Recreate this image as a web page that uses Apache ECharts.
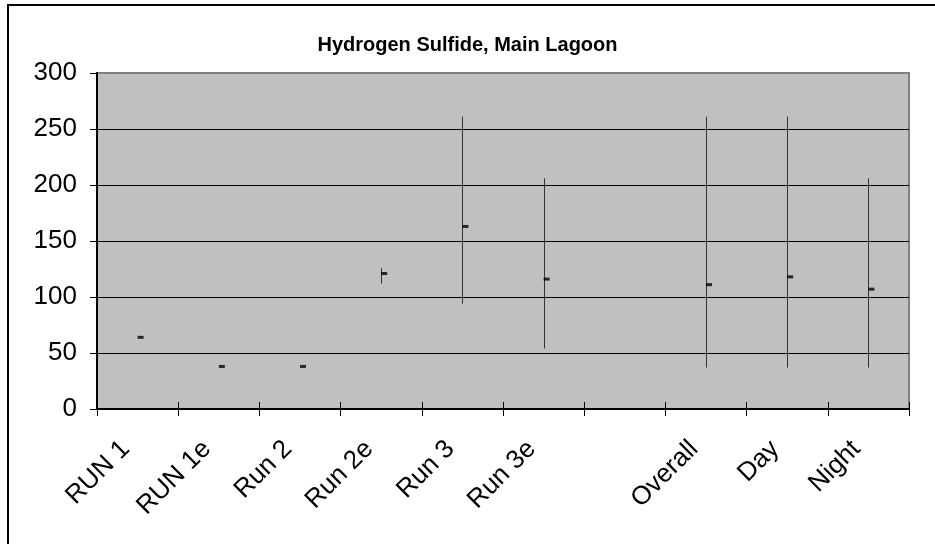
<!DOCTYPE html>
<html>
<head>
<meta charset="utf-8">
<script src="https://cdn.jsdelivr.net/npm/echarts@6/dist/echarts.min.js"></script>
<style>
  html, body { margin: 0; padding: 0; background: #fff; }
  #chart { width: 935px; height: 544px; }
</style>
</head>
<body>
<div id="chart"></div>
<script>
// data
var categories = ['RUN 1', 'RUN 1e', 'Run 2', 'Run 2e', 'Run 3', 'Run 3e', '', 'Overall', 'Day', 'Night'];
var means = [64, 38, 38, 121, 163, 116, null, 111, 118, 107];
var lows = [null, null, null, 112, 94, 54, null, 37, 37, 37];
var highs = [null, null, null, 126, 261, 206, null, 261, 261, 206];
var yTicks = [0, 50, 100, 150, 200, 250, 300];

var chart = echarts.init(document.getElementById('chart'));

var errData = [];
for (var i = 0; i < categories.length; i++) {
  if (lows[i] != null) errData.push([i, lows[i], highs[i]]);
}
var meanData = [];
for (var j = 0; j < categories.length; j++) {
  if (means[j] != null) meanData.push([j, means[j]]);
}

var option = {
  animation: false,
  backgroundColor: '#fff',
  title: {
    text: 'Hydrogen Sulfide, Main Lagoon',
    left: 'center',
    top: 30,
    textStyle: { fontFamily: 'Liberation Sans', fontWeight: 'bold', fontSize: 20, color: '#000' }
  },
  graphic: [
    { type: 'line', shape: { x1: 8, y1: 4, x2: 8, y2: 544 }, style: { stroke: '#000', lineWidth: 2 } },
    { type: 'line', shape: { x1: 7, y1: 5, x2: 935, y2: 5 }, style: { stroke: '#000', lineWidth: 2 } }
  ],
  grid: {
    left: 97, right: 26, top: 73, bottom: 135,
    show: true,
    backgroundColor: '#c0c0c0',
    borderColor: '#808080',
    borderWidth: 2
  },
  xAxis: [{
    type: 'category',
    data: categories,
    boundaryGap: true,
    axisLine: { lineStyle: { color: '#000', width: 2 } },
    axisTick: { show: true, length: 7, lineStyle: { color: '#000' } },
    axisLabel: {
      interval: 0,
      rotate: 45,
      margin: 24,
      padding: [0, 17, 0, 0],
      fontFamily: 'Liberation Sans',
      fontSize: 26,
      color: '#000'
    }
  }, {
    type: 'category',
    data: categories,
    position: 'bottom',
    boundaryGap: true,
    axisLine: { show: false },
    axisTick: { show: true, inside: true, length: 7, lineStyle: { color: '#000' } },
    axisLabel: { show: false }
  }],
  yAxis: {
    type: 'value',
    min: 0,
    max: 300,
    interval: 50,
    axisLine: { show: true, lineStyle: { color: '#000', width: 2 } },
    axisTick: { show: true, length: 7, lineStyle: { color: '#000' } },
    axisLabel: {
      margin: 20,
      fontFamily: 'Liberation Sans',
      fontSize: 26,
      color: '#000'
    },
    splitLine: {
      show: true,
      lineStyle: { color: ['#000', '#000', '#000', '#000', '#000', '#000', '#808080'], width: 1 }
    }
  },
  series: [{
    type: 'custom',
    data: errData,
    renderItem: function (params, api) {
      var lo = api.coord([api.value(0), api.value(1)]);
      var hi = api.coord([api.value(0), api.value(2)]);
      var x = Math.round(lo[0]) + 0.5;
      return {
        type: 'line',
        shape: { x1: x, y1: lo[1], x2: x, y2: hi[1] },
        style: { stroke: '#333', lineWidth: 1 }
      };
    },
    z: 3
  }, {
    type: 'scatter',
    data: meanData,
    symbol: 'rect',
    symbolSize: [6, 3],
    symbolOffset: [3, 0],
    itemStyle: { color: '#000' },
    z: 4
  }]
};

chart.setOption(option);
</script>
</body>
</html>
